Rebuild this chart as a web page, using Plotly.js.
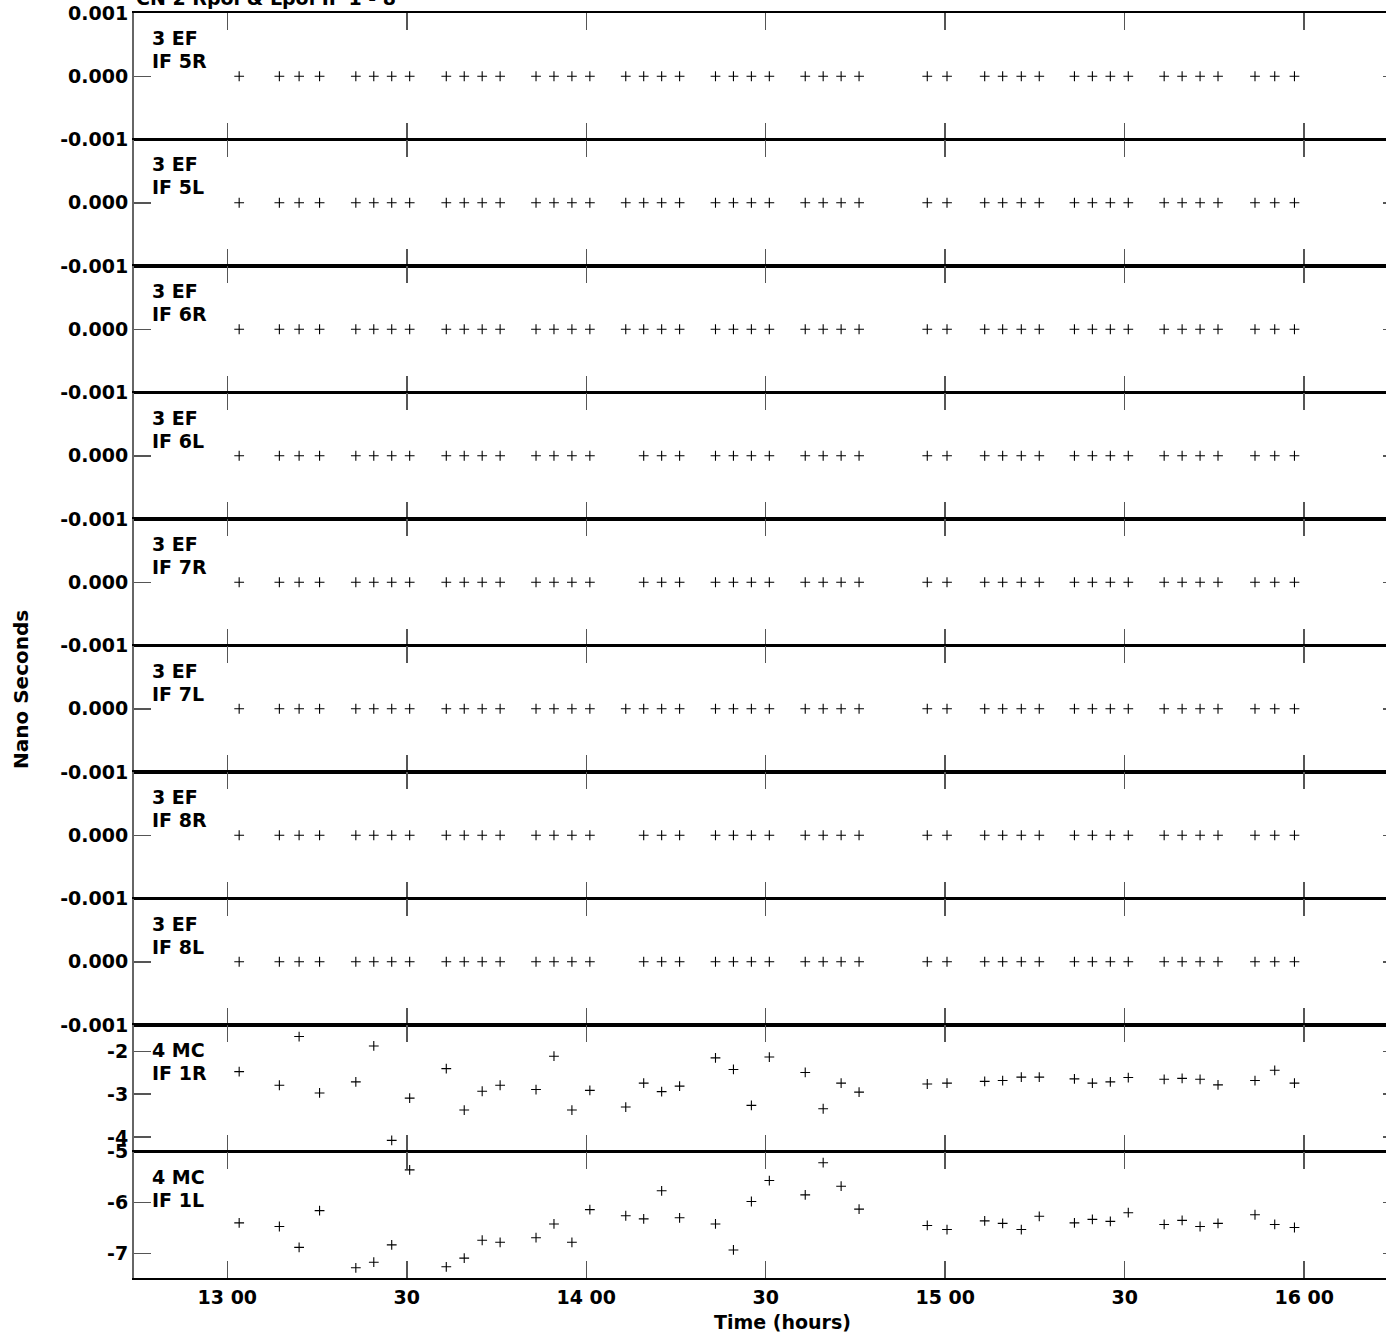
<!DOCTYPE html>
<html><head><meta charset="utf-8">
<script src="https://cdn.plot.ly/plotly-3.0.1.min.js"></script>
<style>html,body{margin:0;padding:0;overflow:hidden;background:#fff}</style>
</head><body><div id="chart" style="width:1400px;height:1336px"></div>
<script>
// Time of each sample (decimal hours)
const times = [13.033, 13.145, 13.200, 13.257, 13.358, 13.408, 13.458, 13.508,
  13.610, 13.660, 13.710, 13.760, 13.860, 13.910, 13.960, 14.010,
  14.110, 14.160, 14.210, 14.260, 14.360, 14.410, 14.460, 14.510,
  14.610, 14.660, 14.710, 14.760, 14.950, 15.005, 15.110, 15.160,
  15.212, 15.262, 15.360, 15.410, 15.460, 15.510, 15.610, 15.660,
  15.710, 15.760, 15.863, 15.918, 15.973];

// Panels whose delay is zero at every sample
const zeroFull = [0,0,0,0,0,0,0,0,0,0,0,0,0,0,0,0,0,0,0,0,0,0,0,0,0,0,0,0,0,0,0,0,0,0,0,0,0,0,0,0,0,0,0,0,0];
// Same, with the 14:06.6 sample missing
const zeroGap = [0,0,0,0,0,0,0,0,0,0,0,0,0,0,0,0,null,0,0,0,0,0,0,0,0,0,0,0,0,0,0,0,0,0,0,0,0,0,0,0,0,0,0,0,0];

// 4 MC IF 1R
const mcIF1R = [-2.47, -2.79, -1.65, -2.97, -2.71, -1.87, -4.08, -3.09,
  -2.40, -3.37, -2.93, -2.79, -2.89, -2.11, -3.37, -2.91,
  -3.30, -2.74, -2.94, -2.81, -2.15, -2.42, -3.26, -2.13,
  -2.49, -3.34, -2.74, -2.95, -2.76, -2.74, -2.70, -2.68,
  -2.60, -2.60, -2.64, -2.74, -2.71, -2.61, -2.65, -2.63,
  -2.65, -2.78, -2.68, -2.44, -2.74];
// 4 MC IF 1L
const mcIF1L = [-6.40, -6.47, -6.88, -6.16, -7.28, -7.17, -6.83, -5.36,
  -7.26, -7.09, -6.74, -6.78, -6.69, -6.42, -6.78, -6.14,
  -6.26, -6.32, -5.77, -6.30, -6.42, -6.93, -5.98, -5.57,
  -5.85, -5.22, -5.68, -6.13, -6.45, -6.53, -6.36, -6.41,
  -6.53, -6.27, -6.40, -6.33, -6.37, -6.20, -6.43, -6.35,
  -6.47, -6.41, -6.24, -6.43, -6.49];

const panelStations = ["3 EF", "3 EF", "3 EF", "3 EF", "3 EF", "3 EF", "3 EF", "3 EF", "4 MC", "4 MC"];
const panelIFs = ["IF 5R", "IF 5L", "IF 6R", "IF 6L", "IF 7R", "IF 7L", "IF 8R", "IF 8L", "IF 1R", "IF 1L"];
const panelValues = [zeroFull, zeroFull, zeroFull, zeroGap, zeroGap, zeroFull, zeroGap, zeroGap, mcIF1R, mcIF1L];
const panelRanges = [[-0.001, 0.001], [-0.001, 0.001], [-0.001, 0.001], [-0.001, 0.001],
  [-0.001, 0.001], [-0.001, 0.001], [-0.001, 0.001], [-0.001, 0.001], [-4.34, -1.38], [-7.48, -5.0]];
const panelTickVals = [[-0.001, 0, 0.001], [-0.001, 0, 0.001], [-0.001, 0, 0.001], [-0.001, 0, 0.001],
  [-0.001, 0, 0.001], [-0.001, 0, 0.001], [-0.001, 0, 0.001], [-0.001, 0, 0.001], [-4, -3, -2], [-7, -6, -5]];
const panelTickText = [["-0.001", "0.000", "0.001"], ["-0.001", "0.000", ""], ["-0.001", "0.000", ""], ["-0.001", "0.000", ""],
  ["-0.001", "0.000", ""], ["-0.001", "0.000", ""], ["-0.001", "0.000", ""], ["-0.001", "0.000", ""], ["-4", "-3", "-2"], ["-7", "-6", "-5"]];

const xTickVals = [13, 13.5, 14, 14.5, 15, 15.5, 16];
const xTickText = ["13 00", "30", "14 00", "30", "15 00", "30", "16 00"];
const xRange = [12.740, 16.267];

const FONT = "DejaVu Sans, Liberation Sans, Arial, sans-serif";
const TF = {family: FONT, size: 19, color: "#000", weight: "bold"};
const n = panelIFs.length;
const traces = [];
const layout = {
  width: 1400, height: 1336,
  margin: {l: 134, r: 0, t: 13, b: 58},
  paper_bgcolor: "#fff", plot_bgcolor: "#fff",
  showlegend: false,
  font: TF,
  annotations: []
};

for (let i = 0; i < n; i++) {
  const k = i + 1;
  const sfx = k === 1 ? "" : String(k);
  traces.push({
    x: times, y: panelValues[i], type: "scatter", mode: "markers",
    xaxis: "x" + sfx, yaxis: "y" + sfx,
    marker: {symbol: "cross-thin-open", size: 7, color: "#000", line: {color: "#000", width: 1.1}},
    hoverinfo: "x+y"
  });
  layout["xaxis" + sfx] = {
    domain: [0, 1], anchor: "y" + sfx, range: xRange,
    tickvals: xTickVals, ticktext: xTickText,
    ticks: "inside", ticklen: 17, tickwidth: 1.5, tickcolor: "#555",
    showline: true, linecolor: "#000", linewidth: 1.6, mirror: "ticks",
    showgrid: false, zeroline: false,
    showticklabels: k === n, ticklabelstandoff: 2,
    tickfont: TF
  };
  if (k > 1) layout["xaxis" + sfx].matches = "x";
  layout["yaxis" + sfx] = {
    domain: [1 - k / n, 1 - i / n], anchor: "x" + sfx, range: panelRanges[i],
    tickvals: panelTickVals[i], ticktext: panelTickText[i],
    ticks: "inside", ticklen: 17, tickwidth: 1.5, tickcolor: "#555",
    showline: true, linecolor: "#666", linewidth: 2, mirror: "ticks",
    showgrid: false, zeroline: false,
    tickfont: TF
  };
  layout.annotations.push({
    text: panelStations[i], xref: "paper", yref: "y" + sfx + " domain",
    x: 16 / 1266, y: 1, xanchor: "left", yanchor: "middle", yshift: -25,
    align: "left", showarrow: false, font: TF
  });
  layout.annotations.push({
    text: panelIFs[i], xref: "paper", yref: "y" + sfx + " domain",
    x: 16 / 1266, y: 1, xanchor: "left", yanchor: "middle", yshift: -48,
    align: "left", showarrow: false, font: TF
  });
}

layout.annotations.push({
  text: "CN 2 Rpol &amp; Lpol IF 1 - 8", xref: "paper", yref: "paper",
  x: 0, y: 1 + 2 / 1265, xanchor: "left", yanchor: "bottom", showarrow: false,
  font: TF
});
layout.annotations.push({
  text: "Time (hours)", xref: "paper", yref: "paper",
  x: (782 - 134) / 1266, y: -(1322 - 1278) / 1265, xanchor: "center", yanchor: "middle", showarrow: false,
  font: TF
});
layout.annotations.push({
  text: "Nano Seconds", xref: "paper", yref: "paper", textangle: -90,
  x: -(134 - 21) / 1266, y: 1 - (690 - 13) / 1265, xanchor: "center", yanchor: "middle", showarrow: false,
  font: {family: FONT, size: 20, color: "#000", weight: "bold"}
});

Plotly.newPlot("chart", traces, layout, {displayModeBar: false, staticPlot: true});
</script></body></html>
